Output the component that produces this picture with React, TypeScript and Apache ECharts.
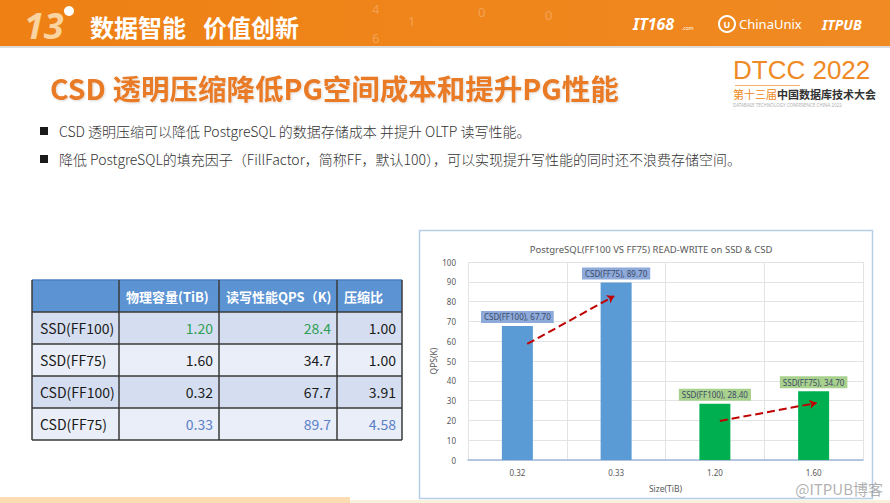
import React, { useEffect, useRef } from "react";
import * as echarts from "echarts";

// ---- chart data ----
const sizeCategories = ["0.32", "0.33", "1.20", "1.60"];
const seriesNames = ["CSD(FF100)", "CSD(FF75)", "SSD(FF100)", "SSD(FF75)"];
const qpsValues = [67.7, 89.7, 28.4, 34.7];
const diskTypes = ["CSD", "CSD", "SSD", "SSD"];
const yTicks = { min: 0, max: 100, interval: 10 };
const arrowCSD = [[0.1, 58.6], [0.98, 82.8]];
const arrowSSD = [[2.05, 19.7], [3.03, 28.8]];

// ---- table data ----
const tableHeader = ["", "物理容量(TiB)", "读写性能QPS（K)", "压缩比"];
const tableRowNames = ["SSD(FF100)", "SSD(FF75)", "CSD(FF100)", "CSD(FF75)"];
const tableCapacity = ["1.20", "1.60", "0.32", "0.33"];
const tableQps = ["28.4", "34.7", "67.7", "89.7"];
const tableRatio = ["1.00", "1.00", "3.91", "4.58"];

// ---- slide texts ----
const bannerLeft = "数据智能";
const bannerRight = "价值创新";
const slideTitle = "CSD 透明压缩降低PG空间成本和提升PG性能";
const bullet1 = "CSD 透明压缩可以降低 PostgreSQL 的数据存储成本 并提升 OLTP 读写性能。";
const bullet2 = "降低 PostgreSQL的填充因子（FillFactor，简称FF，默认100），可以实现提升写性能的同时还不浪费存储空间。";

const CJK = '"Noto Sans CJK SC", "Noto Sans", sans-serif';
const CH = '"Noto Sans", "Open Sans", sans-serif';

function buildTable(): any[] {
  const els: any[] = [];
  const colX = [32, 119, 219, 337, 402];
  const rowY = [280, 312, 344, 376, 408, 440];
  const rowBg = ["#d5def0", "#e9eef8", "#d5def0", "#e9eef8"];
  els.push({ type: "rect", shape: { x: colX[0], y: rowY[0], width: colX[4] - colX[0], height: rowY[1] - rowY[0] }, style: { fill: "#5b93d3" } });
  for (let r = 0; r < 4; r++) {
    els.push({ type: "rect", shape: { x: colX[0], y: rowY[r + 1], width: colX[4] - colX[0], height: rowY[r + 2] - rowY[r + 1] }, style: { fill: rowBg[r] } });
  }
  tableHeader.forEach((h, c) => {
    if (!h) return;
    els.push({ type: "text", x: colX[c] + 7, y: (rowY[0] + rowY[1]) / 2, style: { text: h, fill: "#ffffff", font: `bold 13px ${CJK}`, verticalAlign: "middle" } });
  });
  const cols = [tableCapacity, tableQps, tableRatio];
  for (let r = 0; r < 4; r++) {
    const cy = (rowY[r + 1] + rowY[r + 2]) / 2;
    els.push({ type: "text", x: colX[0] + 8, y: cy, style: { text: tableRowNames[r], fill: "#1a1a1a", font: `14px ${CJK}`, verticalAlign: "middle" } });
    cols.forEach((col, ci) => {
      let color = "#1a1a1a";
      if (r === 0 && ci < 2) color = "#2f9e55";
      if (r === 3) color = "#5b7fc7";
      els.push({ type: "text", x: colX[ci + 2] - 6, y: cy, style: { text: col[r], fill: color, font: `14px ${CJK}`, align: "right", verticalAlign: "middle" } });
    });
  }
  const bc = "#3a3a3a";
  rowY.forEach((y, i) => {
    if (i === 0) return;
    els.push({ type: "line", shape: { x1: colX[0], y1: y, x2: colX[4], y2: y }, style: { stroke: bc, lineWidth: 1.5 } });
  });
  els.push({ type: "line", shape: { x1: colX[0], y1: rowY[0], x2: colX[4], y2: rowY[0] }, style: { stroke: "#4a7fc0", lineWidth: 1.5 } });
  colX.forEach((x) => {
    els.push({ type: "line", shape: { x1: x, y1: rowY[0], x2: x, y2: rowY[5] }, style: { stroke: bc, lineWidth: 1.5 } });
  });
  return els;
}

function buildSlide(): any[] {
  const els: any[] = [];
  els.push({
    type: "rect", shape: { x: 0, y: 0, width: 890, height: 46 },
    style: { fill: new echarts.graphic.LinearGradient(0, 0, 1, 0, [{ offset: 0, color: "#ee8014" }, { offset: 1, color: "#f08a22" }]) },
  });
  els.push({ type: "rect", shape: { x: 0, y: 46, width: 890, height: 2 }, style: { fill: "#dcdcdc" } });
  [["4", 372, 9], ["1", 408, 21], ["6", 372, 38], ["0", 478, 12], ["0", 545, 15]].forEach(([t, x, y]: any) => {
    els.push({ type: "text", x, y, style: { text: t, fill: "rgba(255,255,255,0.25)", font: `13px ${CH}`, verticalAlign: "middle" } });
  });
  els.push({ type: "text", x: 24, y: 25, style: { text: "13", fill: "#f9d3a0", font: `bold italic 36px ${CH}`, verticalAlign: "middle" } });
  els.push({ type: "circle", shape: { cx: 69, cy: 11, r: 5 }, style: { fill: "#ffffff" } });
  els.push({ type: "text", x: 90, y: 26, style: { text: bannerLeft, fill: "#ffffff", font: `bold 24px ${CJK}`, verticalAlign: "middle" } });
  els.push({ type: "text", x: 203, y: 26, style: { text: bannerRight, fill: "#ffffff", font: `bold 24px ${CJK}`, verticalAlign: "middle" } });
  els.push({ type: "text", x: 633, y: 24, style: { text: "IT168", fill: "#ffffff", font: `bold italic 16px ${CH}`, verticalAlign: "middle" } });
  els.push({ type: "text", x: 682, y: 28, style: { text: ".com", fill: "#ffffff", font: `5px ${CH}`, verticalAlign: "middle" } });
  els.push({ type: "circle", shape: { cx: 727, cy: 24, r: 8 }, style: { fill: "none", stroke: "#ffffff", lineWidth: 2 } });
  els.push({ type: "text", x: 727, y: 24, style: { text: "U", fill: "#ffffff", font: `bold 9px ${CH}`, align: "center", verticalAlign: "middle" } });
  els.push({ type: "text", x: 739, y: 24, style: { text: "ChinaUnix", fill: "#ffffff", font: `13px ${CH}`, verticalAlign: "middle" } });
  els.push({ type: "text", x: 822, y: 24, style: { text: "ITPUB", fill: "#ffffff", font: `bold italic 14px ${CH}`, verticalAlign: "middle" } });
  // DTCC logo
  els.push({ type: "text", x: 733, y: 70, style: { text: "DTCC 2022", fill: "#ef8a25", font: `26px "Liberation Sans", sans-serif`, verticalAlign: "middle" } });
  els.push({ type: "line", shape: { x1: 735, y1: 85.5, x2: 800, y2: 85.5 }, style: { stroke: "#f3b06b", lineWidth: 1 } });
  els.push({ type: "text", x: 733, y: 94, style: { text: "第十三届", fill: "#ef8a25", font: `11px ${CJK}`, verticalAlign: "middle" } });
  els.push({ type: "text", x: 777, y: 94, style: { text: "中国数据库技术大会", fill: "#333333", font: `bold 11px ${CJK}`, verticalAlign: "middle" } });
  els.push({ type: "text", x: 733, y: 105, style: { text: "DATABASE TECHNOLOGY CONFERENCE CHINA 2022", fill: "#b0b0b0", font: `4.5px ${CH}`, verticalAlign: "middle" } });
  // slide title
  els.push({ type: "text", x: 50, y: 87, style: { text: slideTitle, fill: "#e97a25", font: `bold 28.5px ${CJK}`, verticalAlign: "middle", textShadowColor: "rgba(0,0,0,0.15)", textShadowBlur: 2, textShadowOffsetX: 1, textShadowOffsetY: 1 } });
  [[bullet1, 131], [bullet2, 159]].forEach(([t, y]: any) => {
    els.push({ type: "rect", shape: { x: 40, y: y - 4, width: 8, height: 8 }, style: { fill: "#1a1a1a" } });
    els.push({ type: "text", x: 59, y, style: { text: t, fill: "#333333", font: `300 14px ${CJK}`, verticalAlign: "middle" } });
  });
  els.push({ type: "rect", shape: { x: 0, y: 497, width: 350, height: 6 }, style: { fill: "#fcdcb3" } });
  els.push({ type: "rect", shape: { x: 350, y: 500, width: 540, height: 3 }, style: { fill: "#f7f1dc" } });
  els.push({ type: "rect", shape: { x: 419.5, y: 230.5, width: 453, height: 268 }, style: { fill: "none", stroke: "#b7cde6", lineWidth: 1.5 } });
  els.push({ type: "text", x: 883, y: 488, style: { text: "@ITPUB博客", fill: "rgba(150,150,150,0.75)", font: `15px ${CJK}`, align: "right", verticalAlign: "middle" } });
  return els.concat(buildTable());
}

export default function App() {
  const ref = useRef<HTMLDivElement>(null);
  useEffect(() => {
    if (!ref.current) return;
    const chart = echarts.init(ref.current, undefined, { renderer: "svg" });
    const barData = qpsValues.map((v, i) => {
      const isCSD = diskTypes[i] === "CSD";
      return {
        value: v,
        name: seriesNames[i],
        itemStyle: { color: isCSD ? "#5b9bd5" : "#00b050" },
        label: { backgroundColor: isCSD ? "#8eaadb" : "#a9d18e" },
      };
    });
    chart.setOption({
      animation: false,
      backgroundColor: "#ffffff",
      title: {
        text: "PostgreSQL(FF100 VS FF75) READ-WRITE on SSD & CSD",
        left: 646, top: 239, textAlign: "center",
        textStyle: { fontFamily: CH, fontSize: 9.5, fontWeight: "normal", color: "#595959" },
      },
      grid: { left: 468, right: 27, top: 262, bottom: 43 },
      xAxis: [
        {
          type: "category", data: sizeCategories, boundaryGap: true,
          name: "Size(TiB)", nameLocation: "middle", nameGap: 24,
          nameTextStyle: { fontFamily: CH, fontSize: 8.5, color: "#595959" },
          axisLine: { lineStyle: { color: "#9fb8da", width: 1.5 } },
          axisTick: { show: false },
          axisLabel: { fontFamily: CH, fontSize: 8, color: "#595959", margin: 8 },
          splitLine: { show: true, lineStyle: { color: "#e3e3e3" } },
        },
        { type: "value", min: -0.5, max: 3.5, show: false },
      ],
      yAxis: {
        type: "value", min: yTicks.min, max: yTicks.max, interval: yTicks.interval,
        name: "QPS(K)", nameLocation: "middle", nameGap: 30,
        nameTextStyle: { fontFamily: CH, fontSize: 8.5, color: "#595959" },
        axisLine: { show: false }, axisTick: { show: false },
        axisLabel: { fontFamily: CH, fontSize: 8, color: "#595959", margin: 12 },
        splitLine: { lineStyle: { color: "#e3e3e3" } },
      },
      series: [
        {
          type: "bar", data: barData, barWidth: 31,
          label: {
            show: true, position: "top", distance: 3,
            fontFamily: CH, fontSize: 8, color: "#3b4a66",
            padding: [2, 3, 2, 3],
            formatter: (p: any) => `${p.name}, ${Number(p.value).toFixed(2)}`,
          },
        },
        {
          type: "lines", coordinateSystem: "cartesian2d", xAxisIndex: 1, yAxisIndex: 0,
          symbol: ["none", "arrow"], symbolSize: 7,
          lineStyle: { color: "#c00000", width: 2, type: "dashed", opacity: 1 },
          data: [{ coords: arrowCSD }, { coords: arrowSSD }],
          z: 5,
        },
      ],
      graphic: buildSlide(),
    });
    return () => chart.dispose();
  }, []);
  return <div ref={ref} style={{ position: "fixed", left: 0, top: 0, width: 890, height: 503 }} />;
}
